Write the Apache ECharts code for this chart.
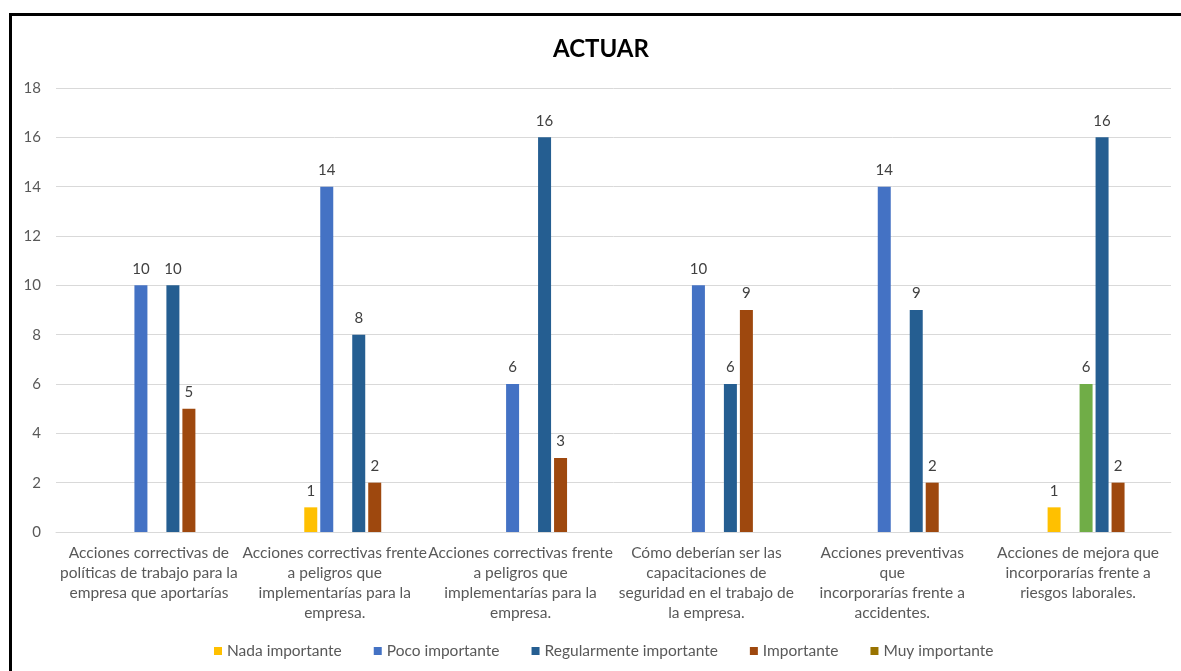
<!DOCTYPE html>
<html>
<head>
<meta charset="utf-8">
<title>ACTUAR</title>
<script src="https://cdn.jsdelivr.net/npm/echarts@6/dist/echarts.min.js"></script>
<style>
  html, body { margin: 0; padding: 0; background: #ffffff; }
  #chart { width: 1181px; height: 671px; }
</style>
</head>
<body>
<div id="chart"></div>
<script>
// Survey questions (category axis), wrapped the way they are printed
const categories = [
  'Acciones correctivas de\npolíticas de trabajo para la\nempresa que aportarías',
  'Acciones correctivas frente\na peligros que\nimplementarías para la\nempresa.',
  'Acciones correctivas frente\na peligros que\nimplementarías para la\nempresa.',
  'Cómo deberían ser las\ncapacitaciones de\nseguridad en el trabajo de\nla empresa.',
  'Acciones preventivas\nque\nincorporarías frente a\naccidentes.',
  'Acciones de mejora que\nincorporarías frente a\nriesgos laborales.'
];

// Answer counts per rating (null = no answers, nothing drawn)
const muyImportante       = [null, null, null, null, null, null];
const nadaImportante      = [null, 1, null, null, null, 1];
const pocoImportante      = [10, 14, 6, 10, 14, null];
const otraRespuesta       = [null, null, null, null, null, 6];
const regularmenteImport  = [10, 8, 16, 6, 9, 16];
const importante          = [5, 2, 3, 9, 2, 2];

const legendNames = ['Nada importante', 'Poco importante', 'Regularmente importante', 'Importante', 'Muy importante'];

const FONT = 'Lato, "Noto Sans", sans-serif';

function barSeries(name, data, color) {
  return {
    name: name,
    type: 'bar',
    data: data,
    barWidth: 13,
    barGap: '23%',
    itemStyle: { color: color },
    label: {
      show: true,
      position: 'top',
      distance: 9,
      color: '#404040',
      fontSize: 15,
      fontFamily: FONT
    }
  };
}

const chart = echarts.init(document.getElementById('chart'), null, { renderer: 'canvas' });

chart.setOption({
  backgroundColor: '#ffffff',
  animation: false,
  graphic: [{
    type: 'rect',
    shape: { x: 10.5, y: 14.5, width: 2000, height: 2000 },
    style: { fill: 'none', stroke: '#000000', lineWidth: 3 },
    silent: true
  }],
  title: {
    text: 'ACTUAR',
    left: 553,
    top: 37,
    padding: 0,
    textStyle: { fontFamily: FONT, fontWeight: 'bold', fontSize: 24, color: '#000000' }
  },
  legend: {
    data: legendNames,
    left: 214,
    top: 643,
    padding: 0,
    icon: 'rect',
    itemWidth: 8,
    itemHeight: 8,
    itemGap: 32,
    textStyle: { fontFamily: FONT, fontSize: 15.5, color: '#595959' }
  },
  grid: { left: 56, right: 10, top: 88, bottom: 139, containLabel: false },
  xAxis: {
    type: 'category',
    data: categories,
    axisLine: { show: true, lineStyle: { color: '#D9D9D9', width: 1 } },
    axisTick: { show: false },
    axisLabel: {
      interval: 0,
      margin: 11,
      color: '#595959',
      fontFamily: FONT,
      fontSize: 15.5,
      lineHeight: 20,
      align: 'center'
    }
  },
  yAxis: {
    type: 'value',
    min: 0,
    max: 18,
    interval: 2,
    axisLine: { show: false },
    axisTick: { show: false },
    splitLine: { lineStyle: { color: '#D9D9D9', width: 1 } },
    axisLabel: { margin: 15, color: '#595959', fontFamily: FONT, fontSize: 15 }
  },
  series: [
    barSeries('Muy importante', muyImportante, '#997300'),
    barSeries('Nada importante', nadaImportante, '#FFC000'),
    barSeries('Poco importante', pocoImportante, '#4472C4'),
    barSeries('Otra respuesta', otraRespuesta, '#70AD47'),
    barSeries('Regularmente importante', regularmenteImport, '#255E91'),
    barSeries('Importante', importante, '#9E480E')
  ]
});
</script>
</body>
</html>
